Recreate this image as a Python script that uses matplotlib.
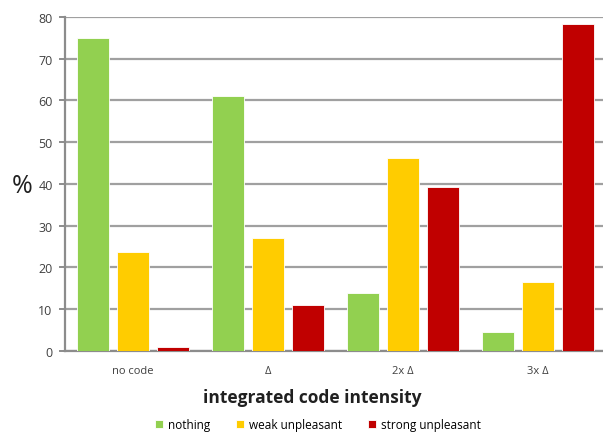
import matplotlib
matplotlib.use("Agg")
from matplotlib import pyplot as plt
import numpy as np

categories  = ['no code', '\u0394', '2x \u0394', '3x \u0394']
nothing     = [75.0, 61.1, 13.9, 4.6]
weak        = [23.7, 27.1, 46.2, 16.5]
strong      = [1.0, 11.0, 39.3, 78.3]
series      = [('nothing', nothing, '#92D050'),
               ('weak unpleasant', weak, '#FFCC00'),
               ('strong unpleasant', strong, '#C00000')]

plt.rcParams['font.family'] = ['Open Sans', 'DejaVu Sans']

fig = plt.figure(figsize=(6.03, 4.35), dpi=100)
ax  = fig.add_axes([0.108, 0.191, 0.892, 0.768])

x       = np.arange(len(categories))
width   = 0.237
step    = 0.296
for i, (name, vals, color) in enumerate(series):
    ax.bar(x + (i - 1) * step, vals, width, color=color, label=name,
           edgecolor='white', linewidth=0.6, zorder=3)

ax.set_xlim(-0.504, 3.48)
ax.set_ylim(0, 80)
ax.set_yticks(range(0, 81, 10))
ax.set_xticks(x)
ax.set_xticklabels(categories, fontsize=8, color='#404040')
ax.tick_params(axis='y', labelsize=9, colors='#404040', length=4, width=1.4, pad=5)
ax.tick_params(axis='x', length=0, pad=10)
ax.tick_params(axis='y', color='#8c8c8c')
ax.yaxis.grid(True, color='#a0a0a0', linewidth=1.6, zorder=0)
ax.set_axisbelow(True)
for s in ['top', 'right']:
    ax.spines[s].set_visible(False)
for s in ['left', 'bottom']:
    ax.spines[s].set_color('#8c8c8c')
    ax.spines[s].set_linewidth(1.6)

fig.text(0.036, 0.572, '%', fontsize=18, ha='center', va='center', color='#202020')
fig.text(0.517, 0.085, 'integrated code intensity', fontsize=12.5, fontweight='bold',
         ha='center', va='center', color='#202020')
fig.legend(loc='center', bbox_to_anchor=(0.527, 0.022), ncol=3, frameon=False,
           fontsize=8.5, handlelength=0.7, handleheight=0.7, handletextpad=0.4,
           columnspacing=2.2)

plt.savefig('out.png', dpi=100)
